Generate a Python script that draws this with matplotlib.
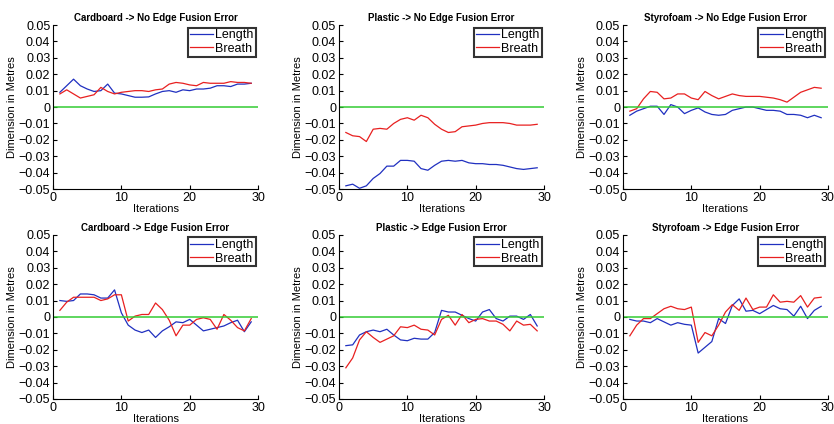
#!/usr/bin/env python3
"""
Dimension error per iteration, 3 materials x (no edge fusion / edge fusion)
"""

import numpy as np
import matplotlib
matplotlib.use('Agg')
import matplotlib.pyplot as plt

plt.rcParams['font.family'] = ['Liberation Sans', 'DejaVu Sans']

iterations = list(range(1, 30))

# Row 1 -> No Edge Fusion Error
cardboard_no_len = [0.009, 0.013, 0.017, 0.013, 0.011, 0.0095, 0.010, 0.014, 0.0085, 0.008,
                    0.007, 0.006, 0.006, 0.0062, 0.008, 0.0095, 0.010, 0.009, 0.0105, 0.010,
                    0.011, 0.011, 0.0115, 0.013, 0.013, 0.0125, 0.014, 0.014, 0.0145]
cardboard_no_bre = [0.008, 0.0105, 0.008, 0.0055, 0.0065, 0.0075, 0.012, 0.0095, 0.008, 0.009,
                    0.0095, 0.010, 0.010, 0.0095, 0.0105, 0.011, 0.014, 0.015, 0.0145, 0.0135,
                    0.013, 0.015, 0.0145, 0.0145, 0.0145, 0.0155, 0.015, 0.015, 0.0145]
plastic_no_len = [-0.048, -0.047, -0.0495, -0.048, -0.0435, -0.0405, -0.036, -0.036, -0.0325, -0.0325,
                  -0.033, -0.0375, -0.0385, -0.0355, -0.033, -0.0325, -0.033, -0.0325, -0.034, -0.0345,
                  -0.0345, -0.035, -0.035, -0.0355, -0.0365, -0.0375, -0.038, -0.0375, -0.037]
plastic_no_bre = [-0.0155, -0.0175, -0.018, -0.021, -0.0135, -0.013, -0.0135, -0.010, -0.0075, -0.0065,
                  -0.008, -0.005, -0.0065, -0.0105, -0.0135, -0.0155, -0.015, -0.012, -0.0115, -0.011,
                  -0.010, -0.0095, -0.0095, -0.0095, -0.010, -0.011, -0.011, -0.011, -0.0105]
styro_no_len = [-0.005, -0.0025, -0.001, 0.0005, 0.0005, -0.0045, 0.0015, 0.0, -0.004, -0.002,
                -0.0005, -0.003, -0.0045, -0.005, -0.0045, -0.002, -0.001, 0.0, 0.0, -0.001,
                -0.002, -0.002, -0.0025, -0.0045, -0.0045, -0.005, -0.0065, -0.005, -0.0065]
styro_no_bre = [-0.0025, -0.001, 0.005, 0.0095, 0.009, 0.005, 0.0055, 0.008, 0.008, 0.0055,
                0.0045, 0.0095, 0.007, 0.005, 0.0065, 0.008, 0.007, 0.0065, 0.0065, 0.0065,
                0.006, 0.0055, 0.0045, 0.003, 0.006, 0.009, 0.0105, 0.012, 0.0115]

# Row 2 -> Edge Fusion Error
cardboard_ef_len = [0.010, 0.0095, 0.010, 0.014, 0.014, 0.0135, 0.0115, 0.0115, 0.0165, 0.0025,
                    -0.005, -0.008, -0.0095, -0.008, -0.0125, -0.0085, -0.006, -0.003, -0.0035, -0.0015,
                    -0.005, -0.0085, -0.0075, -0.0065, -0.0055, -0.0035, -0.002, -0.009, -0.003]
cardboard_ef_bre = [0.004, 0.009, 0.012, 0.012, 0.012, 0.012, 0.010, 0.011, 0.0135, 0.0135,
                    -0.0025, 0.0005, 0.0015, 0.0015, 0.0085, 0.0045, -0.002, -0.0115, -0.005, -0.005,
                    -0.0015, -0.0005, -0.0015, -0.0075, 0.0015, -0.002, -0.0065, -0.0085, -0.001]
plastic_ef_len = [-0.0175, -0.017, -0.011, -0.009, -0.008, -0.009, -0.0075, -0.011, -0.014, -0.0145,
                  -0.013, -0.0135, -0.0135, -0.0095, 0.004, 0.003, 0.003, 0.001, -0.001, -0.0025,
                  0.003, 0.0045, -0.001, -0.0025, 0.0005, 0.0005, -0.0015, 0.0015, -0.0055]
plastic_ef_bre = [-0.031, -0.025, -0.014, -0.009, -0.0125, -0.0155, -0.0135, -0.0115, -0.006, -0.0065,
                  -0.005, -0.0075, -0.008, -0.011, -0.0015, 0.001, -0.005, 0.0015, -0.0035, -0.0015,
                  -0.001, -0.0025, -0.0025, -0.0045, -0.0085, -0.0025, -0.005, -0.0045, -0.0085]
styro_ef_len = [-0.0015, -0.0025, -0.0025, -0.0035, -0.001, -0.003, -0.005, -0.0035, -0.0045, -0.005,
                -0.022, -0.0185, -0.015, -0.001, -0.004, 0.007, 0.011, 0.0035, 0.004, 0.002,
                0.0045, 0.007, 0.005, 0.0045, 0.0005, 0.0065, -0.001, 0.004, 0.0065]
styro_ef_bre = [-0.0115, -0.005, -0.001, -0.001, 0.002, 0.005, 0.0065, 0.005, 0.0045, 0.006,
                -0.0155, -0.0095, -0.0115, -0.005, 0.003, 0.0075, 0.004, 0.0115, 0.0045, 0.006,
                0.006, 0.0135, 0.009, 0.0095, 0.009, 0.013, 0.006, 0.0115, 0.012]

titles = ['Cardboard -> No Edge Fusion Error', 'Plastic -> No Edge Fusion Error',
          'Styrofoam -> No Edge Fusion Error', 'Cardboard -> Edge Fusion Error',
          'Plastic -> Edge Fusion Error', 'Styrofoam -> Edge Fusion Error']
lengths = [cardboard_no_len, plastic_no_len, styro_no_len,
           cardboard_ef_len, plastic_ef_len, styro_ef_len]
breaths = [cardboard_no_bre, plastic_no_bre, styro_no_bre,
           cardboard_ef_bre, plastic_ef_bre, styro_ef_bre]

yticks = np.round(np.arange(-0.05, 0.0501, 0.01), 2)
ytick_labels = ['0' if v == 0 else f'{v:g}'.replace('-', '\u2212') for v in yticks]

fig = plt.figure(figsize=(8.34, 4.24), dpi=100)

# axes positions (fractions)
lefts = [0.0636, 0.4065, 0.747]
bottoms = [0.554, 0.059]
w, h = 0.2458, 0.387

for i in range(6):
    row, col = divmod(i, 3)
    ax = fig.add_axes([lefts[col], bottoms[row], w, h])
    ax.plot(iterations, lengths[i], color='#2030c0', lw=0.9, label='Length')
    ax.plot(iterations, breaths[i], color='#e82020', lw=0.9, label='Breath')
    ax.axhline(0, color='#33cc33', lw=1.1)

    ax.set_xlim(0, 30)
    ax.set_ylim(-0.05, 0.05)
    ax.set_xticks([0, 10, 20, 30])
    ax.set_yticks(yticks)
    ax.set_yticklabels(ytick_labels)
    ax.tick_params(direction='in', length=3, labelsize=9, pad=2)
    ax.spines['top'].set_visible(False)
    ax.spines['right'].set_visible(False)

    ax.set_title(titles[i], fontsize=7, fontweight='bold', pad=3)
    ax.set_xlabel('Iterations', fontsize=8, labelpad=0)
    ax.set_ylabel('Dimension in Metres', fontsize=8, labelpad=1)

    leg = ax.legend(loc='upper right', fontsize=9, handlelength=1.8, handletextpad=0.2,
                    borderpad=0.15, labelspacing=0.1, fancybox=False,
                    borderaxespad=0.2)
    leg.get_frame().set_edgecolor('black')
    leg.get_frame().set_linewidth(1.5)

fig.savefig('out.png', dpi=100)
